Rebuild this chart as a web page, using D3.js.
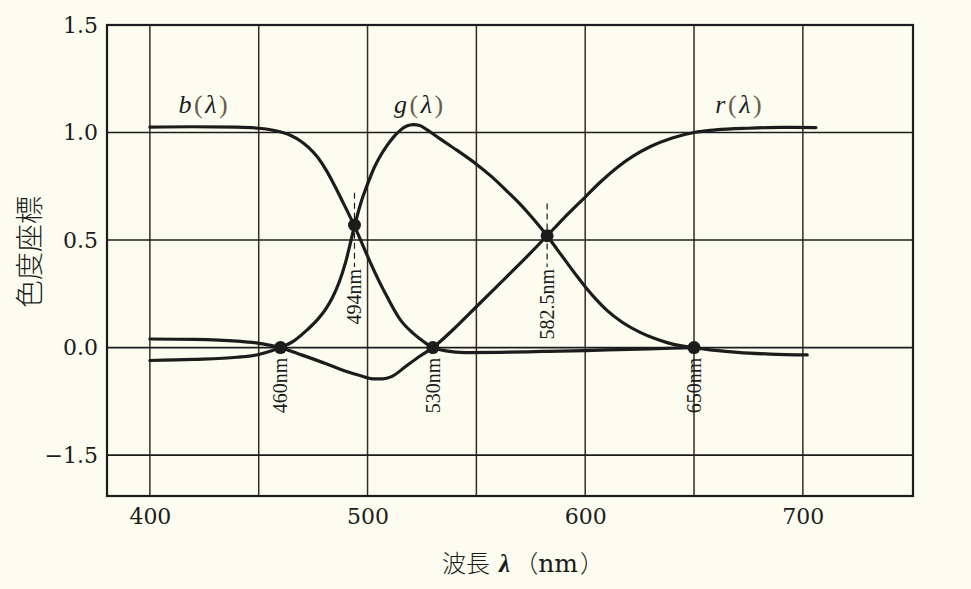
<!DOCTYPE html>
<html>
<head>
<meta charset="utf-8">
<script src="https://cdn.jsdelivr.net/npm/d3@7"></script>
<style>
  html, body { margin: 0; padding: 0; background: #fcfcf0; }
  svg { display: block; }
</style>
</head>
<body>
<script>
// ---- data ----
const bLambda = [400, 420, 440, 450, 456, 461, 465, 469, 473, 477, 481, 484, 488, 494, 500, 505, 509, 515, 521, 526, 530, 536, 545, 560, 580, 600, 620, 640, 650];
const bValues = [1.025, 1.027, 1.025, 1.02, 1.012, 1.0, 0.985, 0.962, 0.93, 0.886, 0.825, 0.77, 0.69, 0.565, 0.425, 0.315, 0.236, 0.13, 0.066, 0.026, 0.0, -0.015, -0.023, -0.022, -0.018, -0.014, -0.008, -0.003, 0.0];

const gLambda = [400, 420, 440, 450, 456, 460, 466, 472, 477, 481, 484, 487, 490, 494, 497, 500, 503, 506, 509, 512, 515, 518, 521, 524, 527, 533, 541, 550, 557, 564, 570, 575, 582.5, 587, 591.6, 596, 600, 605, 610, 617, 625, 632, 638, 645, 650, 660, 670, 685, 702];
const gValues = [-0.06, -0.055, -0.045, -0.032, -0.015, 0.0, 0.03, 0.08, 0.13, 0.182, 0.235, 0.305, 0.4, 0.565, 0.675, 0.76, 0.835, 0.893, 0.94, 0.98, 1.01, 1.03, 1.037, 1.033, 1.015, 0.973, 0.918, 0.853, 0.795, 0.728, 0.668, 0.612, 0.52, 0.458, 0.395, 0.335, 0.283, 0.224, 0.173, 0.118, 0.072, 0.042, 0.022, 0.007, 0.0, -0.013, -0.022, -0.03, -0.034];

const rLambda = [400, 420, 440, 450, 456, 460, 470, 481, 490, 496.5, 502.5, 507, 511, 518, 524, 530, 540, 550, 560, 570, 582.5, 590, 600, 607, 615, 622, 630, 640, 650, 660, 675, 690, 706];
const rValues = [0.04, 0.038, 0.03, 0.02, 0.01, 0.0, -0.035, -0.075, -0.11, -0.13, -0.145, -0.145, -0.135, -0.084, -0.04, 0.0, 0.09, 0.19, 0.29, 0.39, 0.52, 0.6, 0.7, 0.77, 0.84, 0.89, 0.935, 0.975, 1.0, 1.012, 1.02, 1.024, 1.023];

const markerLambda = [460, 494, 530, 582.5, 650];
const markerValues = [0, 0.57, 0, 0.52, 0];
const markerLabels = ["460nm", "494nm", "530nm", "582.5nm", "650nm"];

const xGrid = [400, 450, 500, 550, 600, 650, 700];
const xTickValues = [400, 500, 600, 700];
const xTickLabels = ["400", "500", "600", "700"];
const yTickValues = [1.5, 1.0, 0.5, 0.0, -0.5];
const yTickLabels = ["1.5", "1.0", "0.5", "0.0", "\u22121.5"];

const seriesNames = ["b", "g", "r"];

// ---- drawing ----
const W = 971, H = 589;
const svg = d3.select("body").append("svg").attr("width", W).attr("height", H);
svg.append("rect").attr("width", W).attr("height", H).attr("fill", "#fcfcf0");

const x = d3.scaleLinear().domain([380.3, 750.6]).range([107, 913]);
const y = d3.scaleLinear().domain([-0.69, 1.5]).range([496, 25]);

const serif = "'Liberation Serif', 'DejaVu Serif', serif";
const wideSerif = "'DejaVu Serif', 'Liberation Serif', serif";
const cjk = "'Noto Sans CJK JP', sans-serif";
const ink = "#1c1c1c";

// grid
svg.append("g").selectAll("line").data(xGrid).join("line")
  .attr("x1", d => x(d)).attr("x2", d => x(d))
  .attr("y1", y.range()[1]).attr("y2", y.range()[0])
  .attr("stroke", "#3a2a24").attr("stroke-width", 1.5);
svg.append("g").selectAll("line").data(yTickValues).join("line")
  .attr("x1", x.range()[0]).attr("x2", x.range()[1])
  .attr("y1", d => y(d)).attr("y2", d => y(d))
  .attr("stroke", ink).attr("stroke-width", 1.6);

// frame
svg.append("rect")
  .attr("x", x.range()[0]).attr("y", y.range()[1])
  .attr("width", x.range()[1] - x.range()[0]).attr("height", y.range()[0] - y.range()[1])
  .attr("fill", "none").attr("stroke", ink).attr("stroke-width", 2.2);

// axes (labels only)
const yAxis = d3.axisLeft(y).tickValues(yTickValues).tickSize(0).tickPadding(9)
  .tickFormat((d, i) => yTickLabels[i]);
const gy = svg.append("g").attr("transform", `translate(${x.range()[0]},0)`).call(yAxis);
gy.select(".domain").remove();
gy.selectAll("text").attr("font-family", wideSerif).attr("font-size", 22).attr("fill", ink);

const xAxis = d3.axisBottom(x).tickValues(xTickValues).tickSize(0).tickPadding(12)
  .tickFormat((d, i) => xTickLabels[i]);
const gx = svg.append("g").attr("transform", `translate(0,${y.range()[0]})`).call(xAxis);
gx.select(".domain").remove();
gx.selectAll("text").attr("font-family", wideSerif).attr("font-size", 22).attr("fill", ink);

// curves
const line = d3.line().x(d => x(d[0])).y(d => y(d[1])).curve(d3.curveMonotoneX);
const series = [
  d3.zip(bLambda, bValues),
  d3.zip(gLambda, gValues),
  d3.zip(rLambda, rValues)
];
svg.append("g").selectAll("path").data(series).join("path")
  .attr("d", line).attr("fill", "none").attr("stroke", ink)
  .attr("stroke-width", 3.2).attr("stroke-linejoin", "round").attr("stroke-linecap", "round");

// dashed guides for the upper crossings
const textTopY = y(0.375);
markerLambda.forEach((l, i) => {
  if (markerValues[i] > 0) {
    svg.append("line")
      .attr("x1", x(l)).attr("x2", x(l))
      .attr("y1", y(markerValues[i] + 0.15)).attr("y2", textTopY)
      .attr("stroke", ink).attr("stroke-width", 1.2).attr("stroke-dasharray", "6,4");
  }
});

// markers
svg.append("g").selectAll("circle").data(markerLambda).join("circle")
  .attr("cx", d => x(d)).attr("cy", (d, i) => y(markerValues[i]))
  .attr("r", 6.5).attr("fill", ink);

// marker labels (rotated)
svg.append("g").selectAll("text").data(markerLambda).join("text")
  .attr("transform", (d, i) => {
    const ty = markerValues[i] > 0 ? textTopY + 2 : y(markerValues[i]) + 10;
    return `translate(${x(d)},${ty}) rotate(-90)`;
  })
  .attr("text-anchor", "end").attr("dy", "0.35em")
  .attr("font-family", serif).attr("font-size", 20).attr("fill", ink)
  .text((d, i) => markerLabels[i]);

// series labels
const labelPos = [[425, 1.09], [524, 1.09], [671, 1.09]];
seriesNames.forEach((n, i) => {
  const t = svg.append("text")
    .attr("x", x(labelPos[i][0])).attr("y", y(labelPos[i][1]))
    .attr("text-anchor", "middle").attr("letter-spacing", 2.5)
    .attr("font-family", serif).attr("font-size", 26).attr("fill", ink);
  t.append("tspan").attr("font-style", "italic").text(n);
  t.append("tspan").attr("fill", "#6b5a4a").text("(");
  t.append("tspan").attr("font-style", "italic").text("\u03bb");
  t.append("tspan").attr("fill", "#6b5a4a").text(")");
});

// axis titles
const xt = svg.append("text").attr("x", 523).attr("y", 572)
  .attr("text-anchor", "middle").attr("fill", ink).attr("font-size", 24);
xt.append("tspan").attr("font-family", cjk).attr("font-weight", 300).text("波長");
xt.append("tspan").attr("dx", 9).attr("font-family", serif).attr("font-style", "italic").attr("font-weight", "bold").attr("font-size", 25).text("\u03bb");
xt.append("tspan").attr("dx", 4).attr("font-family", cjk).attr("font-weight", 300).text("（");
xt.append("tspan").attr("font-family", wideSerif).attr("font-size", 25).text("nm");
xt.append("tspan").attr("dx", 2).attr("font-family", cjk).attr("font-weight", 300).text("）");

svg.append("text")
  .attr("transform", "translate(30,252) rotate(-90)")
  .attr("text-anchor", "middle").attr("dy", "0.35em")
  .attr("font-family", cjk).attr("font-weight", 300)
  .attr("font-size", 28).attr("fill", ink)
  .text("色度座標");
</script>
</body>
</html>
